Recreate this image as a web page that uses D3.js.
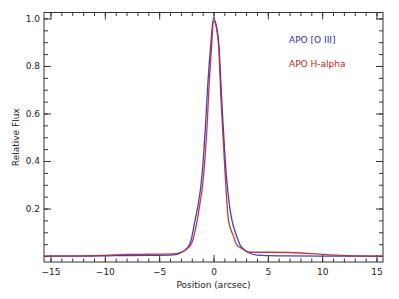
<!DOCTYPE html>
<html>
<head>
<meta charset="utf-8">
<script src="https://cdn.jsdelivr.net/npm/d3@7"></script>
<style>
  body { margin: 0; background: #fff; }
  svg { display: block; }
  .tick text { font-family: "DejaVu Sans", sans-serif; font-size: 9px; fill: #222; }
  .domain { display: none; }
  .tick line { stroke: #333; }
</style>
</head>
<body>
<script>
// chart values
let xMajor = [-15, -10, -5, 0, 5, 10, 15];
let xMinor = d3.range(-15, 16, 1);
let yMajor = [0.2, 0.4, 0.6, 0.8, 1.0];
let yMinor = d3.range(0, 21).map(i => i * 0.05);

let oiiiPos  = [-15.6, -12, -9, -6, -4, -3.3, -2.9, -2.5, -2.1, -1.7, -1.4, -1.15, -0.95, -0.75, -0.5, -0.25, 0, 0.43, 0.8, 1.15, 1.45, 1.7, 2.1, 2.45, 2.75, 3.2, 4.0, 6, 10, 15.6];
let oiiiFlux = [0.000, 0.000, 0.002, 0.003, 0.004, 0.008, 0.017, 0.030, 0.060, 0.150, 0.220, 0.300, 0.400, 0.540, 0.740, 0.890, 1.000, 0.920, 0.620, 0.360, 0.220, 0.150, 0.088, 0.046, 0.030, 0.015, 0.004, 0.001, 0.000, 0.000];

let haPos  = [-15.6, -12, -10, -8, -5, -3.5, -2.9, -2.5, -2.0, -1.5, -1.25, -1.0, -0.8, -0.6, -0.38, -0.18, 0, 0.43, 0.7, 1.05, 1.38, 1.8, 2.15, 2.6, 3.35, 5, 7, 9, 12.2, 15.6];
let haFlux = [0.000, 0.001, 0.003, 0.007, 0.008, 0.010, 0.017, 0.028, 0.055, 0.150, 0.220, 0.300, 0.400, 0.540, 0.740, 0.880, 0.990, 0.910, 0.650, 0.360, 0.150, 0.088, 0.046, 0.032, 0.016, 0.016, 0.015, 0.010, 0.002, 0.000];

let legendNames = ["APO [O III]", "APO H-alpha"];
let seriesColors = ["#2b2bc4", "#c02424"];

let width = 399, height = 299;
let margin = { left: 44, top: 12.5, right: 16, bottom: 37 };

let svg = d3.select('body')
    .append('svg')
    .attr('width', width)
    .attr('height', height);

let x = d3.scaleLinear()
    .domain([-15.6, 15.6])
    .range([margin.left, width - margin.right]);

let y = d3.scaleLinear()
    .domain([-0.025, 1.025])
    .range([height - margin.bottom, margin.top]);

let plotW = width - margin.left - margin.right;
let plotH = height - margin.top - margin.bottom;

// minor ticks
svg.append('g')
    .attr('transform', `translate(0,${y.range()[0]})`)
    .call(d3.axisBottom(x).tickValues(xMinor).tickSize(-3.5).tickFormat(''));
svg.append('g')
    .attr('transform', `translate(0,${y.range()[1]})`)
    .call(d3.axisTop(x).tickValues(xMinor).tickSize(-3.5).tickFormat(''));
svg.append('g')
    .attr('transform', `translate(${x.range()[0]},0)`)
    .call(d3.axisLeft(y).tickValues(yMinor).tickSize(-4).tickFormat(''));
svg.append('g')
    .attr('transform', `translate(${x.range()[1]},0)`)
    .call(d3.axisRight(y).tickValues(yMinor).tickSize(-4).tickFormat(''));

// major ticks
svg.append('g')
    .attr('transform', `translate(0,${y.range()[0]})`)
    .call(d3.axisBottom(x).tickValues(xMajor).tickSize(-7).tickPadding(7)
        .tickFormat(d => d < 0 ? '\u2212' + Math.abs(d) : d));
svg.append('g')
    .attr('transform', `translate(0,${y.range()[1]})`)
    .call(d3.axisTop(x).tickValues(xMajor).tickSize(-7).tickFormat(''));
svg.append('g')
    .attr('transform', `translate(${x.range()[0]},0)`)
    .call(d3.axisLeft(y).tickValues(yMajor).tickSize(-7).tickPadding(4)
        .tickFormat(d3.format('.1f')));
svg.append('g')
    .attr('transform', `translate(${x.range()[1]},0)`)
    .call(d3.axisRight(y).tickValues(yMajor).tickSize(-7).tickFormat(''));

// frame
svg.append('rect')
    .attr('x', margin.left)
    .attr('y', margin.top)
    .attr('width', plotW)
    .attr('height', plotH)
    .attr('fill', 'none')
    .attr('stroke', '#333')
    .attr('stroke-width', 1);

// curves
let line = d3.line()
    .x(d => x(d[0]))
    .y(d => y(d[1]))
    .curve(d3.curveMonotoneX);

let series = [
    d3.zip(oiiiPos, oiiiFlux),
    d3.zip(haPos, haFlux)
];

svg.append('g')
    .selectAll('path')
    .data(series)
    .join('path')
    .attr('d', line)
    .attr('fill', 'none')
    .attr('stroke', (d, i) => seriesColors[i])
    .attr('stroke-width', 1.3)
    .attr('stroke-opacity', 0.9);

// legend
svg.append('g')
    .selectAll('text')
    .data(legendNames)
    .join('text')
    .attr('x', 289)
    .attr('y', (d, i) => 43 + i * 23.5)
    .attr('fill', (d, i) => seriesColors[i])
    .style('font-family', '"DejaVu Sans", sans-serif')
    .style('font-size', '9px')
    .text(d => d);

// axis titles
svg.append('text')
    .attr('x', x(0))
    .attr('y', 288)
    .attr('text-anchor', 'middle')
    .attr('fill', '#222')
    .style('font-family', '"DejaVu Sans", sans-serif')
    .style('font-size', '9px')
    .text('Position (arcsec)');

svg.append('text')
    .attr('transform', `translate(18.5,${(margin.top + y.range()[0]) / 2}) rotate(-90)`)
    .attr('text-anchor', 'middle')
    .attr('fill', '#222')
    .style('font-family', '"DejaVu Sans", sans-serif')
    .style('font-size', '9px')
    .text('Relative Flux');
</script>
</body>
</html>
